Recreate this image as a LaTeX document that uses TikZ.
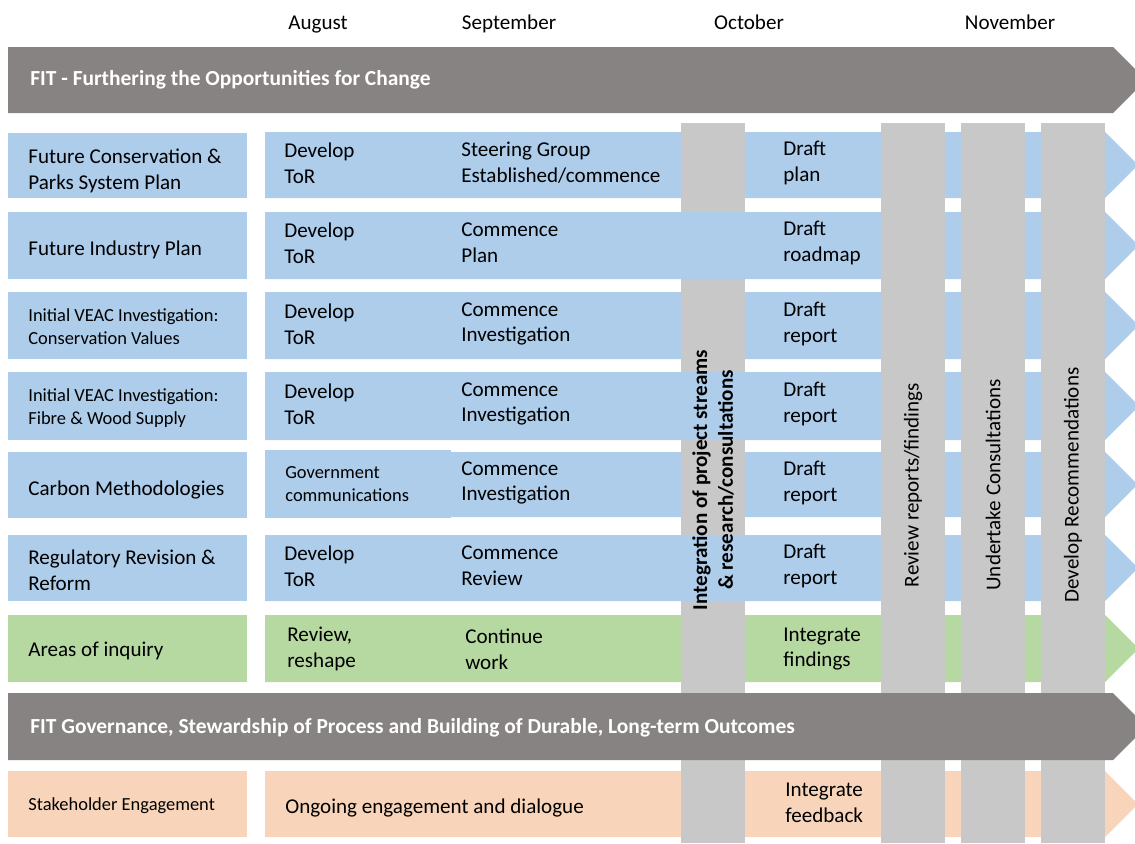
\documentclass[tikz,border=0pt]{standalone}
\usepackage{fontspec}
\setmainfont{Carlito}
\usetikzlibrary{calc}

\definecolor{rowblue}{RGB}{173,205,234}
\definecolor{rowgreen}{RGB}{182,216,161}
\definecolor{rowpeach}{RGB}{248,213,186}
\definecolor{bandgrey}{RGB}{135,131,130}
\definecolor{bargrey}{RGB}{200,200,200}

\newcommand{\band}[5] % left, right, top, bottom, colour (px)
{
	\fill[#5] (#1,#3) -- (#2,#3) -- ({#2+(#4-#3)/2},{(#3+#4)/2}) -- (#2,#4) -- (#1,#4) -- cycle;
}
\newcommand{\lbox}[3] % top, bottom, colour
{
	\fill[#3] (8,#1) rectangle (247,#2);
}
\newcommand{\vbar}[4] % left, right, top, bottom
{
	\fill[bargrey] (#1,#3) rectangle (#2,#4);
}

\tikzset{
	txt/.style={anchor=west, inner sep=0pt, align=left, font=\fontsize{12}{14.6}\selectfont},
	smalltxt/.style={anchor=west, inner sep=0pt, align=left, font=\fontsize{10.5}{13.2}\selectfont},
	bandtitle/.style={anchor=west, inner sep=0pt, text=white, font=\fontsize{12.2}{14.6}\selectfont\bfseries},
	month/.style={anchor=base, inner sep=0pt, font=\fontsize{12}{14.6}\selectfont},
	bartxt/.style={rotate=90, inner sep=0pt, align=center, font=\fontsize{12}{14.6}\selectfont},
}

\begin{document}
\begin{tikzpicture}[x=0.02cm, y=-0.02cm]
	% page: 1135 x 843 px, y grows downwards
	\useasboundingbox (0,0) rectangle (1135,843);
	\clip (0,0) rectangle (1135,843);

	% months
	\node[month] (aug) at (318,29) {August};
	\node[month] (sep) at (509,29) {September};
	\node[month] (oct) at (749,29) {October};
	\node[month] (nov) at (1010,29) {November};

	% top band
	\band{8}{1113}{47}{113}{bandgrey};

	% left labels
	\lbox{133}{198}{rowblue};
	\lbox{212}{279}{rowblue};
	\lbox{292}{359}{rowblue};
	\lbox{372}{440}{rowblue};
	\lbox{452}{518}{rowblue};
	\lbox{535}{601}{rowblue};
	\lbox{615}{682}{rowgreen};
	\lbox{771}{837}{rowpeach};

	% rows under the first bar
	\band{265}{1105}{132}{198}{rowblue};
	\band{265}{1105}{292}{359}{rowblue};
	\band{451}{1105}{452}{517}{rowblue};
	\fill[rowblue] (265,450) rectangle (451,518);
	\band{265}{1105}{615}{682}{rowgreen};
	\band{265}{1105}{771}{837}{rowpeach};

	% integration bar
	\vbar{681}{745}{123}{843};

	% rows over the first bar
	\band{265}{1105}{212}{279}{rowblue};
	\band{265}{1105}{372}{440}{rowblue};
	\band{265}{1105}{535}{601}{rowblue};

	% november bars
	\vbar{881}{945}{123}{843};
	\vbar{961}{1025}{123}{843};
	\vbar{1041}{1105}{123}{843};

	% governance band
	\band{8}{1113}{693}{760}{bandgrey};

	\node[bandtitle] (fit) at (30,80) {FIT - Furthering the Opportunities for Change};
	\node[bandtitle] (gov) at (30,728) {FIT Governance, Stewardship of Process and Building of Durable, Long-term Outcomes};

	% row 1
	\node[txt] (parks) at (28,171) {Future Conservation \&\\Parks System Plan};
	\node[txt] (parksA) at (284,163) {Develop\\ToR};
	\node[txt] (parksB) at (461,163) {Steering Group\\Established/commence};
	\node[txt] (parksC) at (783,163) {Draft\\plan};
	% row 2
	\node[txt] (ind) at (28,250) {Future Industry Plan};
	\node[txt] (indA) at (284,243) {Develop\\ToR};
	\node[txt] (indB) at (461,243) {Commence\\Plan};
	\node[txt] (indC) at (783,243) {Draft\\roadmap};
	% row 3
	\node[smalltxt] (cons) at (28,327) {Initial VEAC Investigation:\\Conservation Values};
	\node[txt] (consA) at (284,324) {Develop\\ToR};
	\node[txt] (consB) at (461,324) {Commence\\Investigation};
	\node[txt] (consC) at (783,324) {Draft\\report};
	% row 4
	\node[smalltxt] (wood) at (28,408) {Initial VEAC Investigation:\\Fibre \& Wood Supply};
	\node[txt] (woodA) at (284,404) {Develop\\ToR};
	\node[txt] (woodB) at (461,404) {Commence\\Investigation};
	\node[txt] (woodC) at (783,404) {Draft\\report};
	% row 5
	\node[txt] (carb) at (28,490) {Carbon Methodologies};
	\node[smalltxt] (carbA) at (285,484) {Government\\communications};
	\node[txt] (carbB) at (461,483) {Commence\\Investigation};
	\node[txt] (carbC) at (783,483) {Draft\\report};
	% row 6
	\node[txt] (reg) at (28,570) {Regulatory Revision \&\\Reform};
	\node[txt] (regA) at (284,566) {Develop\\ToR};
	\node[txt] (regB) at (461,566) {Commence\\Review};
	\node[txt] (regC) at (783,566) {Draft\\report};
	% row 7
	\node[txt] (inq) at (28,651) {Areas of inquiry};
	\node[txt] (inqA) at (287,649) {Review,\\reshape};
	\node[txt] (inqB) at (465,649) {Continue\\work};
	\node[txt] (inqC) at (783,649) {Integrate\\findings};
	% row 8
	\node[smalltxt] (stake) at (28,806) {Stakeholder Engagement};
	\node[txt] (stakeA) at (285,808) {Ongoing engagement and dialogue};
	\node[txt] (stakeC) at (785,803) {Integrate\\feedback};

	% bar texts
	\node[bartxt, font=\fontsize{12}{14.6}\selectfont\bfseries] (integ) at (713,480) {Integration of project streams\\\& research/consultations};
	\node[bartxt] (review) at (913,485) {Review reports/findings};
	\node[bartxt] (consult) at (993,485) {Undertake Consultations};
	\node[bartxt] (recom) at (1073,485) {Develop Recommendations};
\end{tikzpicture}
\end{document}
